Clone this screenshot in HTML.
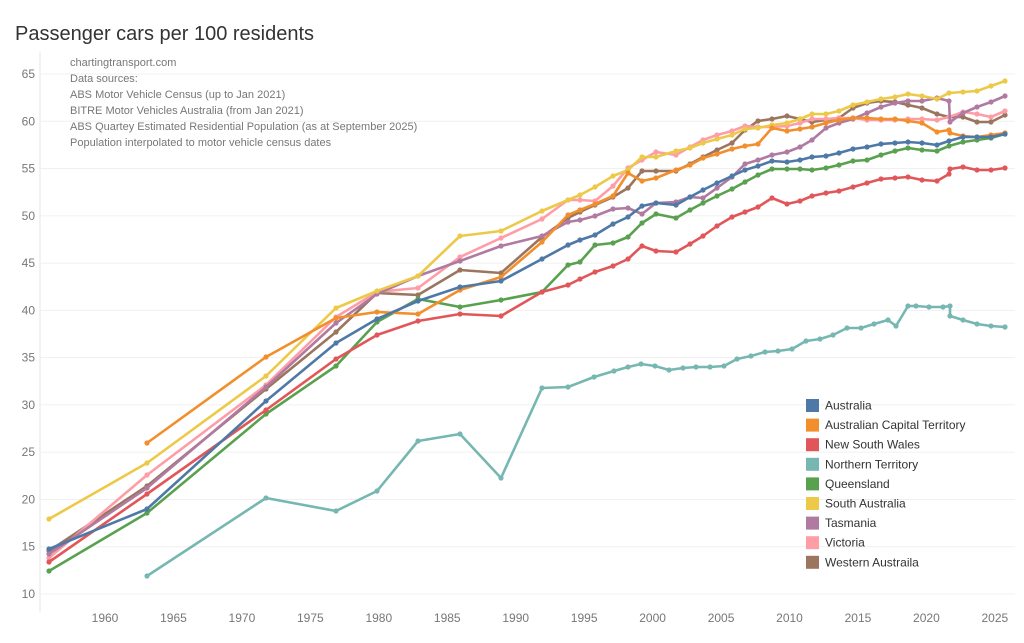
<!DOCTYPE html>
<html><head><meta charset="utf-8"><style>
html,body{margin:0;padding:0;background:#fff;}
svg{display:block;font-family:"Liberation Sans",sans-serif;}
</style></head><body>
<svg id="c" width="1024" height="643" viewBox="0 0 1024 643">
<text x="15" y="40" font-size="20" fill="#333">Passenger cars per 100 residents</text>
<g id="grid"></g>
<g font-size="11" fill="#777">
<text x="70" y="66">chartingtransport.com</text>
<text x="70" y="82">Data sources:</text>
<text x="70" y="98">ABS Motor Vehicle Census (up to Jan 2021)</text>
<text x="70" y="114">BITRE Motor Vehicles Australia (from Jan 2021)</text>
<text x="70" y="130">ABS Quartey Estimated Residential Population (as at September 2025)</text>
<text x="70" y="146">Population interpolated to motor vehicle census dates</text>
</g>
<g id="series"></g>
<g id="legend" font-size="12" fill="#333"></g>
</svg>
<script>
const NS="http://www.w3.org/2000/svg";
function el(t,a,p,txt){const e=document.createElementNS(NS,t);for(const k in a)e.setAttribute(k,a[k]);if(txt)e.textContent=txt;p.appendChild(e);return e;}
const g=document.getElementById('grid');
el('line',{x1:40,y1:52,x2:40,y2:612,stroke:'#e6e6e6'},g);
for(let v=10;v<=65;v+=5){const y=594-(v-10)*9.4545;
 el('line',{x1:40,y1:y,x2:1015,y2:y,stroke:'#f0f0f0'},g);
 el('text',{x:35,y:y+4,'font-size':12,fill:'#777','text-anchor':'end'},g,v);}
for(let yr=1960;yr<=2025;yr+=5){const x=105+(yr-1960)*13.69;
 el('text',{x:x,y:622,'font-size':12,fill:'#777','text-anchor':'middle'},g,yr);}
const S=[
['#9c755f',"49,551 147,486 266,389 336,332 377,293 418,295 460,270 501,273 542,237 568,218 580,212 595,205 613,197 628,188 642,171 656,171 676,171 690,164 703,157 717,150 732,143 745,130 758,121 772,119 787,116 800,119 812,122 826,120 839,118 853,108 867,103 881,101 895,102 908,105 922,108 937,114 949,117 963,117 977,122 991,122 1005,115"],
['#ff9da7',"49,558 147,475 266,385 336,317 377,292 418,288 460,257 501,238 542,219 568,200 580,200 595,201 613,186 628,168 642,160 656,152 676,155 690,147 703,140 717,135 732,131 745,126 758,127 772,127 787,126 800,123 812,119 826,119 839,118 853,118 867,120 881,120 895,120 908,119 922,119 937,120 949,117 963,112 977,114 991,117 1005,111"],
['#b07aa1',"49,554 147,488 266,387 336,323 377,294 418,276 460,261 501,246 542,236 568,222 580,220 595,216 613,209 628,208 642,214 656,203 676,202 690,197 703,198 717,188 732,177 745,164 758,160 772,155 787,152 800,147 812,140 826,128 839,123 853,119 867,113 881,107 895,103 908,101 922,101 937,98 949,101 950,122 963,113 977,107 991,102 1005,96"],
['#edc948',"49,519 147,463 266,376 336,308 377,291 418,276 460,236 501,231 542,211 568,200 580,195 595,187 613,176 628,170 642,157 656,157 676,151 690,148 703,143 717,139 732,135 745,129 758,128 772,125 787,123 800,119 812,114 826,114 839,111 853,105 867,102 881,99 895,97 908,94 922,96 937,99 949,93 963,92 977,91 991,86 1005,81"],
['#59a14f',"49,571 147,513 266,414 336,366 377,322 418,299 460,307 501,300 542,292 568,265 580,262 595,245 613,243 628,237 642,223 656,214 676,218 690,210 703,203 717,196 732,189 745,182 758,175 772,169 787,169 800,169 812,170 826,168 839,165 853,161 867,160 881,155 895,151 908,148 922,150 937,151 949,146 963,142 977,140 991,138 1005,134"],
['#76b7b2',"147,576 266,498 336,511 377,491 418,441 460,434 501,478 542,388 568,387 594,377 614,371 628,367 641,364 655,366 669,370 683,368 696,367 710,367 724,366 737,359 751,356 765,352 778,351 792,349 806,341 820,339 833,335 847,328 861,328 874,324 888,320 896,326 908,306 916,306 929,307 943,307 950,306 950,316 963,320 977,324 991,326 1005,327"],
['#e15759',"49,562 147,494 266,410 336,359 377,335 418,321 460,314 501,316 542,292 568,285 580,279 595,272 613,266 628,259 642,246 656,251 676,252 690,244 703,236 717,226 732,217 745,212 758,207 772,198 787,204 800,201 812,196 826,193 839,191 853,187 867,183 881,179 895,178 908,177 922,180 937,181 949,174 950,169 963,167 977,170 991,170 1005,168"],
['#f28e2b',"147,443 266,357 336,318 377,312 418,314 460,290 501,277 542,242 568,215 580,210 595,204 613,196 628,173 642,181 656,178 676,170 690,165 703,158 717,154 732,149 745,146 758,144 772,128 787,131 800,129 812,127 826,123 839,120 853,118 867,118 881,119 895,119 908,121 922,123 937,132 949,130 950,133 963,136 977,137 991,135 1005,133"],
['#4e79a7',"49,549 147,509 266,401 336,343 377,319 418,301 460,287 501,281 542,259 568,245 580,240 595,235 613,224 628,217 642,206 656,203 676,205 690,197 703,190 717,183 732,176 745,170 758,166 772,161 787,162 800,160 812,157 826,156 839,153 853,149 867,147 881,144 895,143 908,142 922,143 937,145 949,141 963,137 977,137 991,137 1005,134"]
];
const sg=document.getElementById('series');
S.forEach(([c,p])=>{el('polyline',{points:p,fill:'none',stroke:c,'stroke-width':2.6,'stroke-linejoin':'round'},sg);
 p.split(' ').forEach(q=>{const [x,y]=q.split(',');el('circle',{cx:x,cy:y,r:2.6,fill:c},sg);});});
const L=[['#4e79a7','Australia'],['#f28e2b','Australian Capital Territory'],['#e15759','New South Wales'],['#76b7b2','Northern Territory'],['#59a14f','Queensland'],['#edc948','South Australia'],['#b07aa1','Tasmania'],['#ff9da7','Victoria'],['#9c755f','Western Austraila']];
const lg=document.getElementById('legend');
L.forEach(([c,t],i)=>{const y=405+i*19.6;el('rect',{x:806,y:y-6,width:13,height:13,fill:c},lg);el('text',{x:825,y:y+4.5},lg,t);});
</script>
</body></html>
